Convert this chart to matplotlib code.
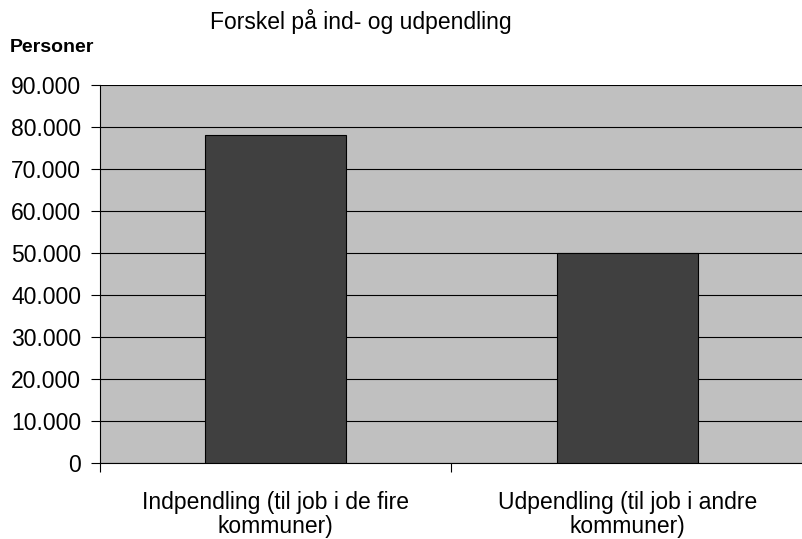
import matplotlib.pyplot as plt
from matplotlib.ticker import FuncFormatter

# data
categories = ["Indpendling (til job i de fire\nkommuner)",
              "Udpendling (til job i andre\nkommuner)"]
values = [78000, 50000]
yticks = [0, 10000, 20000, 30000, 40000, 50000, 60000, 70000, 80000, 90000]

plt.rcParams['font.family'] = ['Liberation Sans', 'DejaVu Sans']

W, H = 803, 539
fig = plt.figure(figsize=(W / 100, H / 100), dpi=100)
fig.patch.set_facecolor('white')

left, right, top, bottom = 100, 803, 85, 463
ax = fig.add_axes([left / W, (H - bottom) / H, (right - left) / W, (bottom - top) / H])
ax.set_facecolor('#C0C0C0')

x = list(range(len(categories)))
ax.bar(x, values, width=0.4, color='#404040', edgecolor='black', linewidth=0.8, zorder=3)

ax.set_ylim(0, 90000)
ax.set_xlim(-0.5, -0.5 + (right - left) / 356.0)
ax.set_yticks(yticks)
ax.yaxis.set_major_formatter(FuncFormatter(lambda v, p: f"{int(v):,}".replace(",", ".")))
ax.yaxis.grid(True, color='black', linewidth=0.8, zorder=1)
ax.set_axisbelow(True)

ax.set_xticks(x)
ax.set_xticklabels(categories, fontsize=16.5, linespacing=1.05)
ax.set_xticks([-0.5, 0.5, 1.5], minor=True)
ax.tick_params(axis='x', which='major', length=0, pad=20)
ax.tick_params(axis='x', which='minor', length=6.5, width=0.8, direction='out')
ax.tick_params(axis='y', labelsize=16.5, length=6.5, width=0.8, pad=7)

for s in ['top', 'right']:
  ax.spines[s].set_visible(False)
for s in ['left', 'bottom']:
  ax.spines[s].set_color('black')
  ax.spines[s].set_linewidth(0.8)

fig.text(361 / W, 1 - 22 / H, "Forskel på ind- og udpendling", fontsize=16.5,
         ha='center', va='center')
fig.text(10 / W, 1 - 48 / H, "Personer", fontsize=14, fontweight='bold',
         ha='left', va='center')

fig.savefig("out.png", dpi=100)
